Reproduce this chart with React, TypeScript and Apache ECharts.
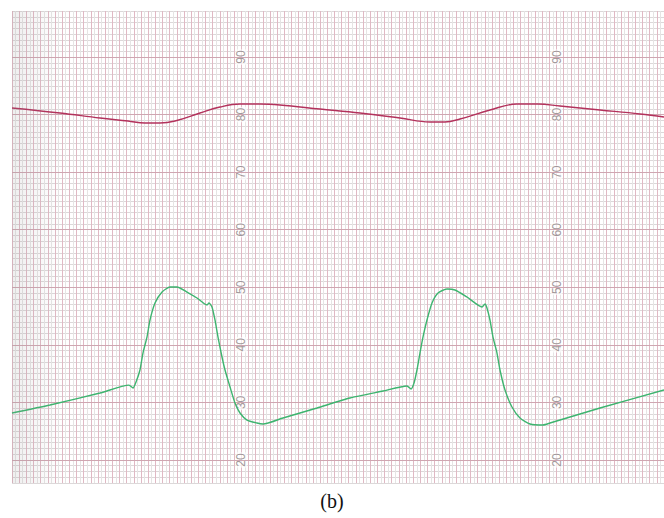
import React, { useEffect, useRef } from "react";
import * as echarts from "echarts";

// Red (upper) trace: [time unit, value]
const redX = [0, 6.7, 12.28, 16.19, 18.56, 20.66, 22.75, 26.24, 29.03, 31.82, 34.61, 37.4, 42.99, 48.57, 54.15, 58.34, 60.43, 62.53, 66.71, 70.48, 73.41, 76.48, 82.07, 87.65, 91];
const redY = [81.15, 80.28, 79.41, 78.89, 78.54, 78.54, 78.89, 80.28, 81.32, 81.84, 81.84, 81.67, 80.97, 80.28, 79.41, 78.72, 78.72, 79.24, 80.8, 81.84, 81.84, 81.49, 80.8, 80.11, 79.58];

// Green (lower) trace
const greenX = [0, 5.3, 12.28, 16.33, 16.89, 17.31, 17.86, 18.28, 18.84, 19.26, 19.96, 20.94, 22.05, 23.03, 24.42, 25.82, 27.22, 27.49, 27.91, 28.33, 28.75, 29.31, 29.73, 30.43, 31.12, 31.82, 32.8, 34.19, 35.03, 37.82, 42.57, 47.17, 51.78, 55.13, 55.69, 56.11, 56.52, 56.94, 57.36, 57.92, 58.62, 59.46, 60.71, 61.83, 63.5, 65.6, 66.02, 66.29, 66.71, 67.13, 67.69, 68.11, 68.81, 69.78, 70.9, 72.3, 74.11, 75.09, 82.07, 91];
const greenY = [28.16, 29.55, 31.63, 33.0, 32.5, 33.55, 35.63, 38.58, 41.36, 44.32, 47.27, 49.18, 50.05, 50.05, 49.18, 48.14, 46.92, 47.27, 46.58, 44.32, 41.36, 37.89, 35.63, 32.68, 29.9, 28.16, 26.94, 26.42, 26.25, 27.29, 29.03, 30.77, 31.98, 32.85, 32.33, 33.37, 35.63, 38.58, 41.36, 44.32, 47.27, 49.01, 49.71, 49.53, 48.31, 46.58, 47.1, 46.4, 44.32, 41.36, 38.58, 35.63, 32.15, 29.2, 27.29, 26.25, 26.08, 26.42, 29.03, 32.15];

// Printed scale labels on the chart paper
const tickLabels = [20, 30, 40, 50, 60, 70, 80, 90];
const labelColumns = [32, 76];
const majorLines = [20, 30, 40, 50, 60, 70, 80, 90];
const caption = "(b)";

export default function App() {
  const ref = useRef<HTMLDivElement>(null);
  useEffect(() => {
    document.body.style.margin = "0";
    const chart = echarts.init(ref.current!, null, { renderer: "svg" });
    const labelData: number[][] = [];
    labelColumns.forEach((c) => tickLabels.forEach((t) => labelData.push([c, t])));
    chart.setOption({
      animation: false,
      backgroundColor: "#ffffff",
      title: {
        text: caption,
        left: "center",
        top: 486,
        textStyle: { fontFamily: "Liberation Serif", fontSize: 20, fontWeight: "normal", color: "#111" },
      },
      grid: { left: 12, right: 0, top: 11, bottom: 35 },
      xAxis: {
        type: "value",
        min: 0,
        max: 91,
        interval: 1,
        axisLine: { show: false },
        axisTick: { show: false },
        axisLabel: { show: false },
        splitLine: { show: true, lineStyle: { color: "#e0b9c4", width: 1 } },
        minorTick: { show: false, splitNumber: 2 },
        minorSplitLine: { show: true, lineStyle: { color: "#e6e4e4", width: 1 } },
      },
      yAxis: {
        type: "value",
        min: 16,
        max: 98,
        interval: 1,
        axisLine: { show: false },
        axisTick: { show: false },
        axisLabel: { show: false },
        splitLine: { show: true, lineStyle: { color: "#dcd8d9", width: 1 } },
      },
      graphic: [
        {
          type: "rect",
          shape: { x: 12, y: 11, width: 50, height: 472 },
          style: {
            fill: new echarts.graphic.LinearGradient(0, 0, 1, 0, [
              { offset: 0, color: "rgba(140,140,140,0.14)" },
              { offset: 1, color: "rgba(140,140,140,0)" },
            ]),
          },
          silent: true,
          z: 10,
        },
      ],
      series: [
        {
          type: "scatter",
          data: labelData,
          symbolSize: 0,
          z: 1,
          silent: true,
          label: {
            show: true,
            position: "inside",
            rotate: 90,
            formatter: (p: any) => String(p.value[1]),
            color: "#8a7e80",
            fontSize: 12,
            fontFamily: "Liberation Sans",
            backgroundColor: "rgba(255,255,255,0.85)",
            padding: [0, 1],
          },
          markLine: {
            silent: true,
            symbol: "none",
            label: { show: false },
            lineStyle: { color: "#cfa6b1", width: 1, type: "solid" },
            data: majorLines.map((v) => ({ yAxis: v })),
          },
        },
        {
          type: "line",
          data: redX.map((x, i) => [x, redY[i]]),
          showSymbol: false,
          smooth: 0.4,
          z: 5,
          lineStyle: { color: "#b3325c", width: 1.4 },
        },
        {
          type: "line",
          data: greenX.map((x, i) => [x, greenY[i]]),
          showSymbol: false,
          smooth: 0.2,
          z: 5,
          lineStyle: { color: "#3db46f", width: 1.4 },
        },
      ],
    });
    return () => chart.dispose();
  }, []);
  return <div ref={ref} style={{ width: 664, height: 518 }} />;
}
